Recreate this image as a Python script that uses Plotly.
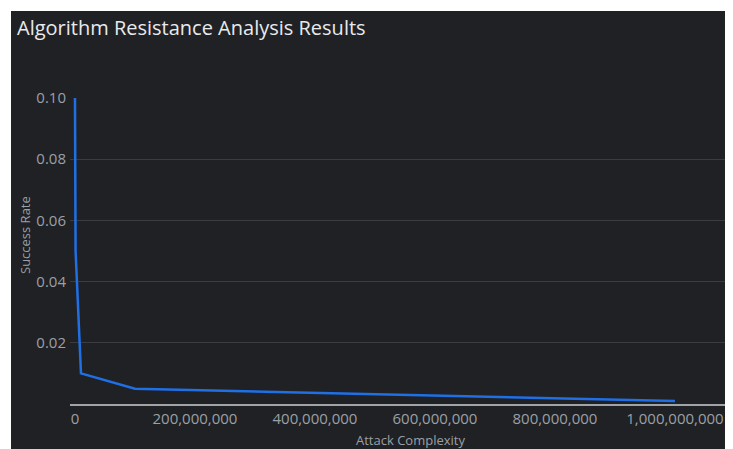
import plotly.graph_objects as go

attack_complexity = [0, 1000000, 10000000, 100000000, 1000000000]
success_rate = [0.1, 0.05, 0.01, 0.005, 0.001]

x_ticks = [0, 200000000, 400000000, 600000000, 800000000, 1000000000]
y_ticks = [0.02, 0.04, 0.06, 0.08, 0.10]

BG = "#202124"
FONT = "Open Sans, Roboto, sans-serif"
TXT = "#9aa0a6"

# page is offset by the html body's 8px margin
W, H = 725, 441
L, R, T, B = 62, 3, 90, 45
pw, ph = W - L - R, H - T - B


def px(x):
    return (x - L) / pw


def py(y):
    return (T + ph - y) / ph


fig = go.Figure()
fig.add_trace(go.Scatter(
    x=attack_complexity, y=success_rate, mode="lines",
    line=dict(color="#1f6fe5", width=2.5), hoverinfo="x+y", showlegend=False,
))

fig.add_shape(type="rect", xref="paper", yref="paper",
              x0=px(3), x1=px(W + 10), y0=py(H + 10), y1=py(3),
              fillcolor=BG, line=dict(width=0), layer="below")

fig.add_annotation(text="Success Rate", xref="paper", yref="paper",
                   x=px(17), y=py(227), xanchor="center", yanchor="middle",
                   textangle=-90, showarrow=False,
                   font=dict(family=FONT, size=13, color=TXT))
fig.add_annotation(text="Attack Complexity", xref="paper", yref="paper",
                   x=px(402), y=py(432), xanchor="center", yanchor="middle",
                   showarrow=False, font=dict(family=FONT, size=13, color=TXT))

fig.update_layout(
    width=W, height=H,
    margin=dict(l=L, r=R, t=T, b=B),
    paper_bgcolor="white", plot_bgcolor="rgba(0,0,0,0)",
    font=dict(family=FONT, color=TXT, size=15),
    title=dict(text="Algorithm Resistance Analysis Results", x=9 / W, xanchor="left",
               y=1 - 20 / H, yanchor="middle",
               font=dict(family=FONT, size=20, color="#e8eaed")),
    xaxis=dict(range=[-8.3e6, 1.0917e9], tickvals=x_ticks, tickformat=",d",
               showgrid=False, zeroline=False, showline=True, linecolor="#a0a3a7",
               linewidth=1.5, ticks="", tickfont=dict(size=15, color=TXT)),
    yaxis=dict(range=[0, 0.1], tickvals=y_ticks, tickformat=".2f",
               showgrid=True, gridcolor="#3a3c40", gridwidth=1, zeroline=False,
               ticks="", ticklabelstandoff=3, tickfont=dict(size=15, color=TXT)),
)

fig.write_html("out.html")
